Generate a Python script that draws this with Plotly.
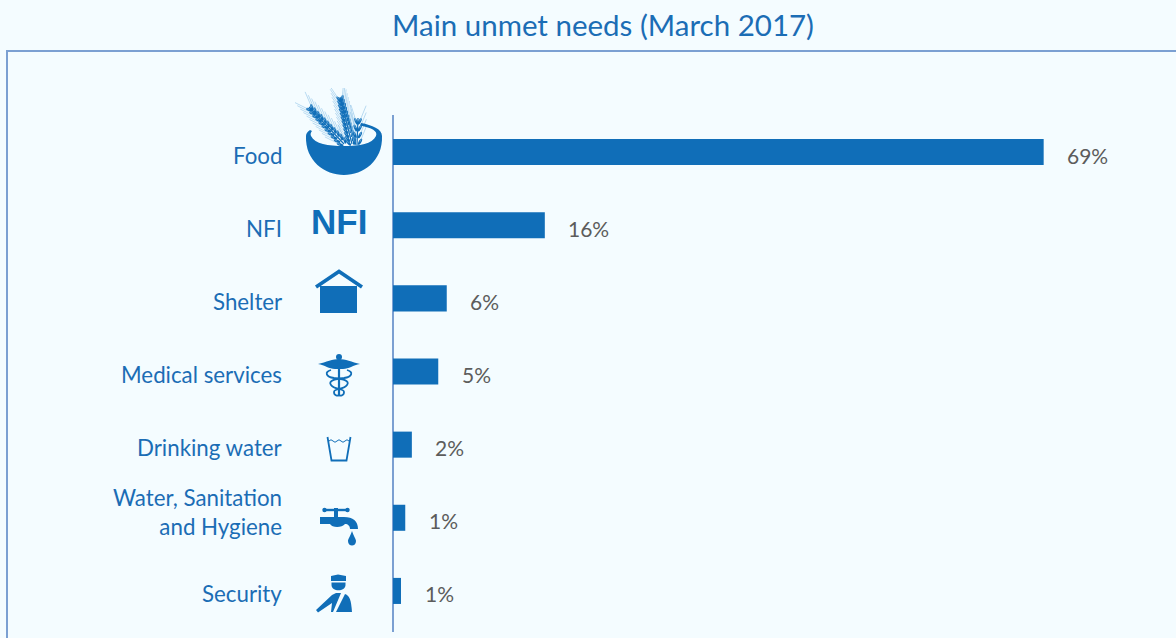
import base64, math
import plotly.graph_objects as go

categories = ["Food", "NFI", "Shelter", "Medical services", "Drinking water",
              "Water, Sanitation<br>and Hygiene", "Security"]
values = [69, 16.1, 5.7, 4.8, 2.0, 1.3, 0.85]
value_labels = ["69%", "16%", "6%", "5%", "2%", "1%", "1%"]
title_text = "Main unmet needs (March 2017)"

W, H = 1176, 638
PL, PR, PT, PB = 393, 1150, 115, 632
BLUE = "#106EB8"
BG = "#F4FCFF"
FRAME = "#7BA0D2"
LABEL = "#1B6DB5"
FONT = "Lato"

def px(x): return (x - PL) / (PR - PL)
def py(y): return (PB - y) / (PB - PT)

def kernels(x0, y0, x1, y1, n):
    a = math.atan2(y1 - y0, x1 - x0)
    nx, ny = -math.sin(a), math.cos(a)
    out = f'<path d="M{x0},{y0}L{x1},{y1}" stroke="{BLUE}" stroke-width="1.2" fill="none"/>'
    d = math.degrees(a)
    for i in range(n):
        t = (i + 0.5) / n
        cx, cy = x0 + (x1 - x0) * t, y0 + (y1 - y0) * t
        wid = 3.2 * (1 - 0.5 * t)
        for s, off in ((1, 25), (-1, -25)):
            ex, ey = cx + s * nx * wid, cy + s * ny * wid
            out += (f'<ellipse cx="{ex:.1f}" cy="{ey:.1f}" rx="3.6" ry="1.35" fill="{BLUE}" '
                    f'transform="rotate({d + off:.0f} {ex:.1f} {ey:.1f})"/>')
            lx = ex + 17 * math.cos(math.radians(d + off * 0.8))
            ly = ey + 17 * math.sin(math.radians(d + off * 0.8))
            out += (f'<path d="M{ex:.1f},{ey:.1f}L{lx:.1f},{ly:.1f}" stroke="#8FC3E8" '
                    'stroke-width="0.6" fill="none"/>')
    return out

food_icon = (
    kernels(344, 144, 309, 107, 11) + kernels(352, 144, 340, 97, 12) + kernels(357, 145, 358, 118, 4)
    + f'<path d="M306,136 C305,161 325,175 344,175 C363,175 383,161 382,136 C382,129 372,125 361,123 '
      f'L360,125.5 C372,128 378,131 376,136 C372,144 360,146 344,146 C328,146 315,144 311,136 '
      f'C310,134 311,132 312,131 L310,130 C307,132 306,134 306,136 Z" fill="{BLUE}"/>'
)
shelter_icon = (
    f'<path d="M316,287 L339,271.5 L362,287" fill="none" stroke="{BLUE}" stroke-width="3.6"/>'
    f'<path d="M320,286 H357 V313 H320 Z" fill="{BLUE}"/>'
)
medical_icon = (
    f'<circle cx="339" cy="357" r="3" fill="{BLUE}"/>'
    f'<path d="M318,364 C326,362 333,359 339,359 C345,359 352,362 360,364 C353,365 349,369 343,369 '
    f'L335,369 C329,369 325,365 318,364 Z" fill="{BLUE}"/>'
    f'<path d="M339,359 V396" stroke="{BLUE}" stroke-width="2.2" fill="none"/>'
    f'<path d="M331,370 C324,372 326,377 334,378 C344,379 350,381 347,385 C344,390 334,388 334,392 '
    f'C334,396 338,396 339,395 M347,370 C354,372 352,377 344,378 C334,379 328,381 331,385 '
    f'C334,390 344,388 344,392 C344,396 340,396 339,395" stroke="{BLUE}" stroke-width="1.8" fill="none"/>'
)
water_icon = (
    f'<path d="M327.5,437 L331.5,460.5 H346.5 L350.5,437" fill="none" stroke="{BLUE}" stroke-width="1.8"/>'
    f'<path d="M329,441 Q331,438.5 333,441 T337,441 T341,441 T345,441 T349,441" fill="none" '
    f'stroke="{BLUE}" stroke-width="1"/>'
)
tap_icon = (
    f'<path d="M324,510 H348" stroke="{BLUE}" stroke-width="2.4" fill="none"/>'
    f'<circle cx="324.5" cy="510" r="2.2" fill="{BLUE}"/><circle cx="347.5" cy="510" r="2.2" fill="{BLUE}"/>'
    f'<path d="M334,508 H338 V517 H344 C353,517 358,521 358,529 H350 C350,526 348,524 345,524 '
    f'C342,528 332,528 330,524 H320 V517 H334 Z" fill="{BLUE}"/>'
    f'<path d="M352,531 C350,537 348,539 348,541 C348,547 356,547 356,541 C356,539 354,537 352,531 Z" '
    f'fill="{BLUE}"/>'
)
security_icon = (
    f'<path d="M331,576 L338,574.5 L346,576 V581 H331 Z M331.5,582.5 H345.5 V585 C345.5,592 331.5,592 331.5,585 Z" '
    f'fill="{BLUE}"/>'
    f'<path d="M316,610 L332,595 L336,593 L341,593 L333,612 H331 L332,603 L318,612.5 Z" fill="{BLUE}"/>'
    f'<path d="M336,612 L345,594 C350,596 351,600 352,612 Z" fill="{BLUE}"/>'
)
icons = [
    (food_icon, 295, 88, 95, 90),
    (shelter_icon, 312, 266, 54, 50),
    (medical_icon, 314, 352, 50, 48),
    (water_icon, 323, 433, 32, 32),
    (tap_icon, 316, 504, 46, 44),
    (security_icon, 312, 570, 44, 46),
]

def img(body, x, y, w, h):
    svg = (f'<svg xmlns="http://www.w3.org/2000/svg" width="{w*3}" height="{h*3}" '
           f'viewBox="{x} {y} {w} {h}">{body}</svg>')
    src = "data:image/svg+xml;base64," + base64.b64encode(svg.encode()).decode()
    return dict(source=src, xref="paper", yref="paper", x=px(x), y=py(y),
                sizex=w / (PR - PL), sizey=h / (PB - PT), xanchor="left", yanchor="top",
                sizing="stretch", layer="above")

fig = go.Figure(go.Bar(
    y=categories, x=values, orientation="h", marker=dict(color=BLUE, line_width=0),
    width=26 / 73, hoverinfo="skip", cliponaxis=False,
))

annotations = [
    dict(x=v, y=c, xref="x", yref="y", text=t, showarrow=False, xanchor="left", xshift=21.5, yshift=-3,
         font=dict(family=FONT, size=21, color="#5C5C5C"))
    for c, v, t in zip(categories, values, value_labels)
]
annotations += [
    dict(x=px(284), y=c, xref="paper", yref="y", text=c, showarrow=False, xanchor="right", align="right",
         yanchor="middle", yshift=6 if "<br>" in c else -3,
         font=dict(family=FONT, size=22.3, color=LABEL))
    for c in categories
]
annotations.append(dict(x=px(339), y=py(222), xref="paper", yref="paper", text="<b>NFI</b>", showarrow=False,
                        xanchor="center", yanchor="middle",
                        font=dict(family="Liberation Sans", size=35, color=BLUE)))

frame = dict(type="path", xref="paper", yref="paper", line=dict(color=FRAME, width=2),
             path=f"M {px(7)} {py(640)} L {px(7)} {py(51)} L {px(1178)} {py(51)}")

fig.update_layout(
    width=W, height=H, autosize=False,
    margin=dict(l=PL, r=W - PR, t=PT, b=H - PB, pad=0),
    paper_bgcolor=BG, plot_bgcolor=BG, showlegend=False,
    title=dict(text=title_text, x=603 / W, xanchor="center", y=1 - 26 / H, yanchor="middle",
               font=dict(family=FONT, size=29.5, color=LABEL)),
    xaxis=dict(range=[0, (PR - PL) / 9.43], showticklabels=False, ticks="", showgrid=False,
               showline=False, zeroline=True, zerolinecolor=FRAME, zerolinewidth=1.5, fixedrange=True),
    yaxis=dict(categoryorder="array", categoryarray=categories,
               range=[6 + (PB - 591) / 73, -(152 - PT) / 73], showgrid=False, zeroline=False,
               showline=False, ticks="", showticklabels=False, fixedrange=True),
    annotations=annotations, shapes=[frame],
    images=[img(*i) for i in icons],
    bargap=0.64,
)
fig.write_html("out.html", config=dict(displayModeBar=False),
               post_script="document.body.style.margin='0';document.body.style.overflow='hidden';"
                           f"document.body.style.background='{BG}';")
